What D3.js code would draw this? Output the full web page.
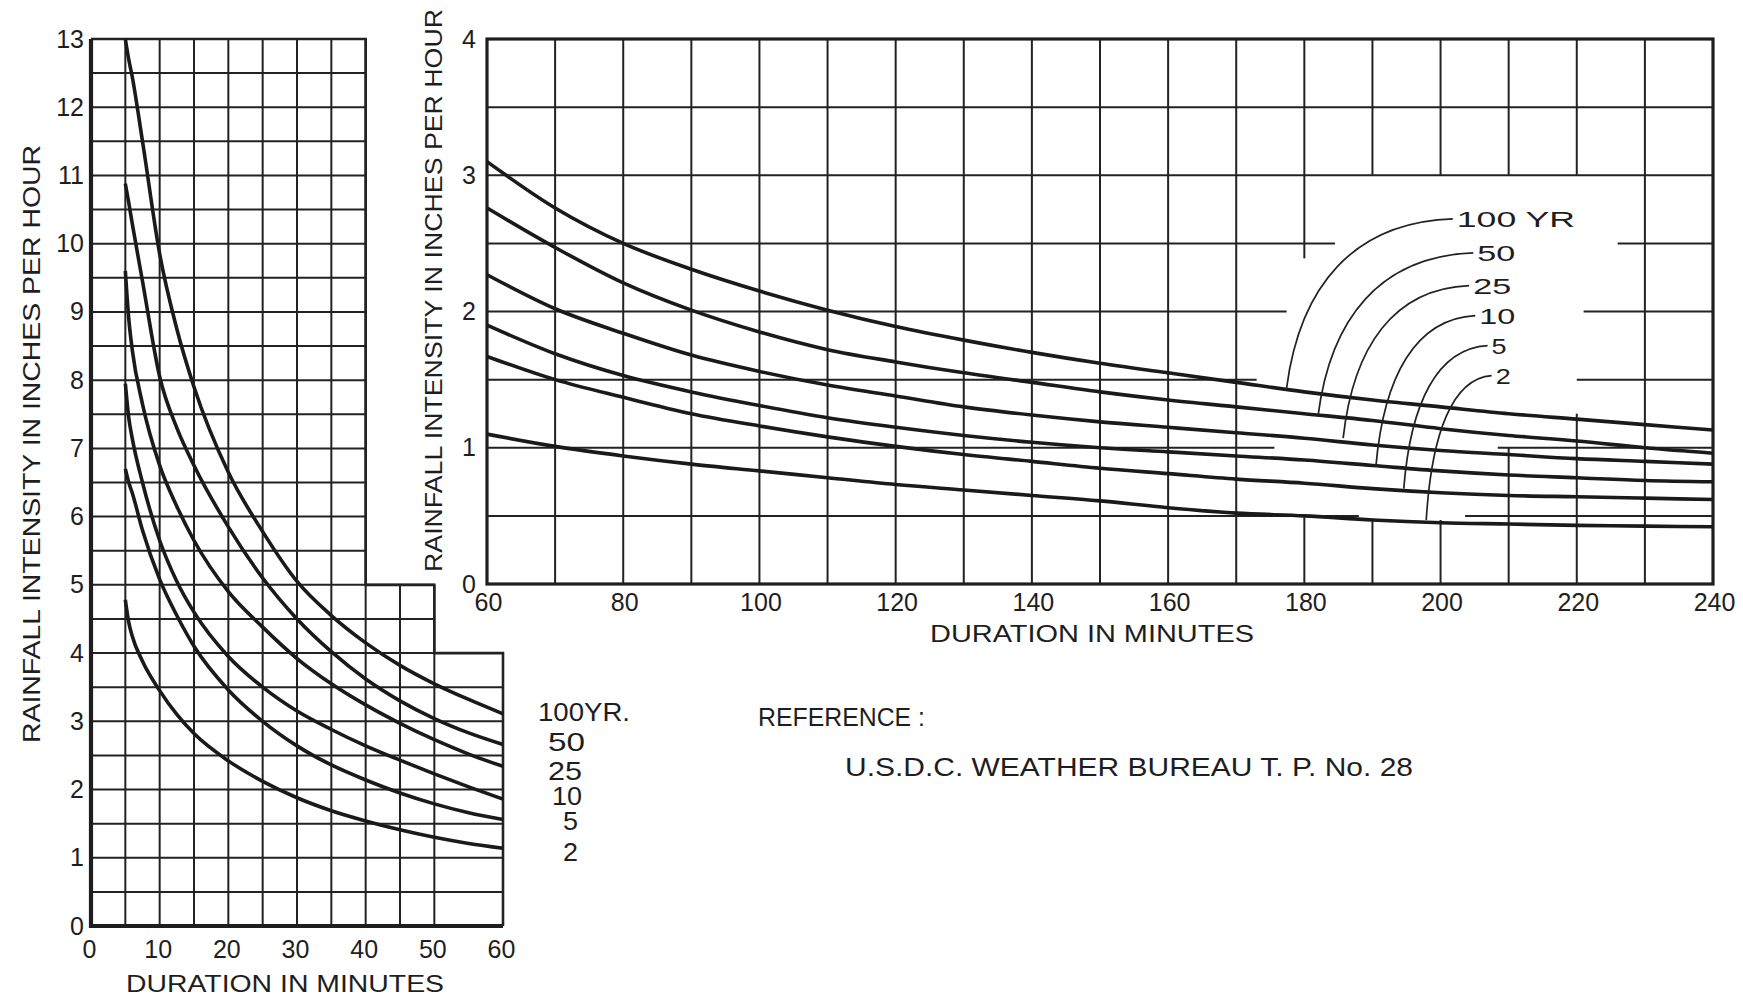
<!DOCTYPE html>
<html>
<head>
<meta charset="utf-8">
<script src="https://cdn.jsdelivr.net/npm/d3@7"></script>
<style>
  body { margin: 0; background: #fff; }
  svg { display: block; }
  text { font-family: "Liberation Sans", Arial, sans-serif; fill: #1e1e1e; }
  .grid { stroke: #222; stroke-width: 2; fill: none; }
  .frame { stroke: #1e1e1e; stroke-width: 3.5; fill: none; }
  .curve { stroke: #1a1a1a; stroke-width: 3.6; fill: none; }
  .leader { stroke: #222; stroke-width: 1.7; fill: none; }
  .tick text { font-size: 25px; fill: #1e1e1e; }
</style>
</head>
<body>
<svg id="chart" width="1743" height="1000"></svg>
<script>
// ---- data ----
// short durations (left chart), minutes
var durShort = [5, 5.5, 6, 7.5, 10, 12.5, 15, 20, 25, 30, 35, 40, 45, 50, 55, 60];
var short100 = [13.0, 12.7, 12.45, 11.5, 9.85, 8.75, 7.9, 6.65, 5.78, 5.05, 4.55, 4.15, 3.82, 3.55, 3.32, 3.11];
var short50  = [10.88, 10.6, 10.3, 9.45, 8.05, 7.3, 6.75, 5.85, 5.1, 4.5, 4.02, 3.62, 3.3, 3.04, 2.83, 2.66];
var short25  = [9.6, 8.9, 8.45, 7.65, 6.75, 6.15, 5.65, 4.9, 4.38, 3.92, 3.55, 3.24, 2.97, 2.73, 2.52, 2.34];
var short10  = [7.95, 7.45, 7.15, 6.5, 5.65, 5.05, 4.6, 3.95, 3.5, 3.15, 2.88, 2.64, 2.43, 2.23, 2.04, 1.86];
var short5   = [6.7, 6.5, 6.35, 5.8, 5.08, 4.55, 4.1, 3.46, 3.0, 2.64, 2.36, 2.14, 1.95, 1.79, 1.66, 1.56];
var short2   = [4.78, 4.45, 4.25, 3.88, 3.45, 3.1, 2.82, 2.42, 2.12, 1.88, 1.69, 1.54, 1.41, 1.30, 1.21, 1.14];

// long durations (right chart), minutes
var durLong = [60, 70, 80, 90, 100, 110, 120, 130, 140, 150, 160, 170, 180, 190, 200, 210, 220, 230, 240];
var long100 = [3.10, 2.76, 2.50, 2.31, 2.15, 2.01, 1.89, 1.79, 1.70, 1.62, 1.55, 1.48, 1.41, 1.35, 1.30, 1.25, 1.21, 1.17, 1.13];
var long50  = [2.76, 2.47, 2.21, 2.01, 1.85, 1.72, 1.63, 1.55, 1.48, 1.41, 1.35, 1.30, 1.25, 1.20, 1.14, 1.09, 1.05, 1.00, 0.96];
var long25  = [2.27, 2.02, 1.84, 1.68, 1.56, 1.46, 1.38, 1.30, 1.24, 1.19, 1.15, 1.11, 1.07, 1.02, 0.98, 0.95, 0.92, 0.90, 0.88];
var long10  = [1.90, 1.69, 1.53, 1.41, 1.31, 1.22, 1.15, 1.09, 1.04, 1.00, 0.97, 0.94, 0.91, 0.87, 0.83, 0.80, 0.78, 0.76, 0.75];
var long5   = [1.67, 1.50, 1.37, 1.25, 1.16, 1.08, 1.01, 0.95, 0.90, 0.85, 0.81, 0.77, 0.74, 0.70, 0.67, 0.65, 0.64, 0.63, 0.62];
var long2   = [1.10, 1.01, 0.94, 0.88, 0.83, 0.78, 0.73, 0.69, 0.65, 0.61, 0.56, 0.52, 0.50, 0.47, 0.45, 0.44, 0.43, 0.425, 0.42];

var periods = ["100", "50", "25", "10", "5", "2"];
var shortSeries = [short100, short50, short25, short10, short5, short2];
var longSeries = [long100, long50, long25, long10, long5, long2];

// tick labels
var shortXTicks = [0, 10, 20, 30, 40, 50, 60];
var shortYTicks = [0, 1, 2, 3, 4, 5, 6, 7, 8, 9, 10, 11, 12, 13];
var longXTicks = [60, 80, 100, 120, 140, 160, 180, 200, 220, 240];
var longYTicks = [0, 1, 2, 3, 4];

// curve labels
var shortLabels = ["100YR.", "50", "25", "10", "5", "2"];
var longLabels = ["100 YR", "50", "25", "10", "5", "2"];
// where the leader lines of the right chart start (label) and meet the curve
var leaderFrom = [[201.8, 2.68], [204.8, 2.43], [204.2, 2.19], [205.1, 1.97], [206.9, 1.75], [207.5, 1.53]];
var leaderTo   = [[177.4, 1.44], [182, 1.23], [185.7, 1.07], [190.5, 0.86], [194.6, 0.70], [197.9, 0.47]];

// stepped outline of the left grid: up to 40 min it is 13 high, then 5, then 4
var stepEnd = [40, 50, 60];
var stepTop = [13, 5, 4];

// ---- scales ----
var svg = d3.select("#chart");

var xL = d3.scaleLinear().domain([0, 60]).range([91, 503]);
var yL = d3.scaleLinear().domain([0, 13]).range([926, 39]);
var xR = d3.scaleLinear().domain([60, 240]).range([487, 1713]);
var yR = d3.scaleLinear().domain([0, 4]).range([584, 39]);

function topAt(m) {           // top of left grid at minute m
  for (var i = 0; i < stepEnd.length; i++) if (m <= stepEnd[i]) return stepTop[i];
  return stepTop[stepTop.length - 1];
}
function rightAt(v) {         // right edge of left grid at value v
  for (var i = stepTop.length - 1; i >= 0; i--) if (v <= stepTop[i]) return stepEnd[i];
  return stepEnd[0];
}

// ---- left chart grid ----
var gL = svg.append("g");
d3.range(0.5, 13, 0.5).forEach(function(v) {
  gL.append("line").attr("class", "grid")
    .attr("x1", xL(0)).attr("x2", xL(rightAt(v)))
    .attr("y1", yL(v)).attr("y2", yL(v));
});
d3.range(5, 60, 5).filter(function(m) { return m !== 55; }).forEach(function(m) {
  gL.append("line").attr("class", "grid")
    .attr("x1", xL(m)).attr("x2", xL(m))
    .attr("y1", yL(0)).attr("y2", yL(topAt(m)));
});
// step outline
var stepPts = [[0, 13]];
stepEnd.forEach(function(e, i) {
  stepPts.push([e, stepTop[i]]);
  if (i < stepEnd.length - 1) stepPts.push([e, stepTop[i + 1]]);
});
stepPts.push([60, 0]);
gL.append("path").attr("class", "grid").style("stroke-width", 2.6)
  .attr("d", d3.line().x(function(d) { return xL(d[0]); }).y(function(d) { return yL(d[1]); })(stepPts));
gL.append("path").attr("class", "frame").style("stroke-width", 4.2)
  .attr("d", "M" + xL(0) + "," + yL(13) + "V" + yL(0) + "H" + xL(60));

// ---- right chart grid ----
var hGaps = { "2.5": [184.5, 226], "2": [177.4, 221], "1.5": [173, 220], "1": [175.6, 208.4], "0.5": [188, 203.6] };
var vGaps = { "180": [0.5, 2.39], "190": [0.48, 3.0], "200": [0.47, 3.0], "210": [1.0, 3.0], "220": [1.25, 3.0] };
var gR = svg.append("g");
d3.range(0.5, 4, 0.5).forEach(function(v) {
  var gap = hGaps[String(v)];
  var segs = gap ? [[60, gap[0]], [gap[1], 240]] : [[60, 240]];
  segs.forEach(function(s) {
    gR.append("line").attr("class", "grid")
      .attr("x1", xR(s[0])).attr("x2", xR(s[1]))
      .attr("y1", yR(v)).attr("y2", yR(v));
  });
});
d3.range(70, 240, 10).forEach(function(m) {
  var gap = vGaps[String(m)];
  var segs = gap ? [[0, gap[0]], [gap[1], 4]] : [[0, 4]];
  segs.forEach(function(s) {
    gR.append("line").attr("class", "grid")
      .attr("x1", xR(m)).attr("x2", xR(m))
      .attr("y1", yR(s[0])).attr("y2", yR(s[1]));
  });
});
gR.append("rect").attr("class", "frame").style("stroke-width", 3.2)
  .attr("x", xR(60)).attr("y", yR(4))
  .attr("width", xR(240) - xR(60)).attr("height", yR(0) - yR(4));

// ---- curves ----
var lineL = d3.line().curve(d3.curveMonotoneX)
  .x(function(d) { return xL(d[0]); }).y(function(d) { return yL(d[1]); });
var lineR = d3.line().curve(d3.curveMonotoneX)
  .x(function(d) { return xR(d[0]); }).y(function(d) { return yR(d[1]); });

shortSeries.forEach(function(s) {
  svg.append("path").attr("class", "curve")
    .attr("d", lineL(durShort.map(function(m, i) { return [m, s[i]]; })));
});
longSeries.forEach(function(s) {
  svg.append("path").attr("class", "curve")
    .attr("d", lineR(durLong.map(function(m, i) { return [m, s[i]]; })));
});

// leader lines (right chart)
leaderFrom.forEach(function(a, i) {
  var b = leaderTo[i];
  var x0 = xR(a[0]), y0 = yR(a[1]), x1 = xR(b[0]), y1 = yR(b[1]);
  var d = "M" + x0 + "," + y0 +
          "C" + (x0 - 0.6 * (x0 - x1)) + "," + (y0 + 0.02 * (y1 - y0)) +
          " " + (x1 + 0.08 * (x0 - x1)) + "," + (y1 - 0.6 * (y1 - y0)) +
          " " + x1 + "," + y1;
  svg.append("path").attr("class", "leader").attr("d", d);
});

// ---- axes (labels only, grid drawn above) ----
function clean(g) {
  g.select(".domain").remove();
  g.selectAll(".tick line").remove();
  g.attr("font-family", null).attr("font-size", null);
}

svg.append("g").attr("transform", "translate(" + (xL(0) - 5) + ",0)")
  .call(d3.axisLeft(yL).tickValues(shortYTicks).tickSize(0).tickPadding(2).tickFormat(d3.format("d")))
  .call(clean);
svg.append("g").attr("transform", "translate(-2," + yL(0) + ")")
  .call(d3.axisBottom(xL).tickValues(shortXTicks).tickSize(0).tickPadding(14).tickFormat(d3.format("d")))
  .call(clean);
svg.append("g").attr("transform", "translate(" + (xR(60) - 10) + ",0)")
  .call(d3.axisLeft(yR).tickValues(longYTicks).tickSize(0).tickPadding(1).tickFormat(d3.format("d")))
  .call(clean);
svg.append("g").attr("transform", "translate(1," + (yR(0) + 1) + ")")
  .call(d3.axisBottom(xR).tickValues(longXTicks).tickSize(0).tickPadding(8).tickFormat(d3.format("d")))
  .call(clean);

// ---- titles ----
function label(x, y, txt, size, len, rot) {
  var t = svg.append("text")
    .attr("transform", "translate(" + x + "," + y + ")" + (rot ? " rotate(" + rot + ")" : ""))
    .style("font-size", size + "px")
    .text(txt);
  if (len) t.attr("textLength", len).attr("lengthAdjust", "spacingAndGlyphs");
  return t;
}
label(40, 743, "RAINFALL  INTENSITY  IN  INCHES  PER  HOUR", 24, 598, -90);
label(442, 572, "RAINFALL INTENSITY IN INCHES PER HOUR", 23, 563, -90);
label(126, 992, "DURATION  IN  MINUTES", 23, 318);
label(930, 642, "DURATION  IN  MINUTES", 23, 324);

// curve labels, left chart
var shortLabelX = [538, 548, 548, 552, 563, 563];
var shortLabelY = [721, 751, 780, 805, 830, 861];
var shortLabelW = [92, 37, 34, 30, 15, 15];
shortLabels.forEach(function(t, i) {
  label(shortLabelX[i], shortLabelY[i], t, 25, shortLabelW[i]);
});
// curve labels, right chart (start just right of their leader)
var longLabelW = [118, 38, 38, 36, 15, 15];
longLabels.forEach(function(t, i) {
  label(xR(leaderFrom[i][0]) + 4, yR(leaderFrom[i][1]) + 8, t, 22, longLabelW[i]);
});

// reference note
label(758, 726, "REFERENCE :", 25, 167);
label(845, 776, "U.S.D.C.  WEATHER  BUREAU  T. P.  No. 28", 25, 568);
</script>
</body>
</html>
